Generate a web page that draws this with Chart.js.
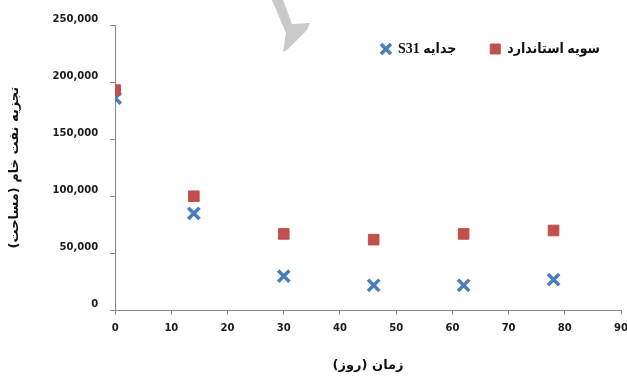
<!DOCTYPE html>
<html>
<head>
<meta charset="utf-8">
<script src="https://cdn.jsdelivr.net/npm/chart.js@4.4.1/dist/chart.umd.min.js"></script>
<style>
  html, body { margin: 0; padding: 0; background: #fff; }
  .wrap { width: 627px; height: 377px; position: relative; }
  canvas { direction: rtl; }
</style>
</head>
<body>
<div class="wrap"><canvas id="crudeChart"></canvas></div>
<script>
// days of incubation
const days = [0, 14, 30, 46, 62, 78];
// peak area, standard strain
const standardArea = [193000, 100000, 67000, 62000, 67000, 70000];
// peak area, isolate S31
const s31Area = [186000, 85000, 30000, 22000, 22000, 27000];

const xTicks = [0, 10, 20, 30, 40, 50, 60, 70, 80, 90];
const yTicks = [0, 50000, 100000, 150000, 200000, 250000];

const toPoints = vals => vals.map((v, i) => ({ x: days[i], y: v }));

// legend sits inside the plot area, top right (as in the original Excel chart)
const legendInside = {
    id: 'legendInside',
    afterLayout(chart) {
        const lg = chart.legend;
        const a = chart.chartArea;
        if (!lg) return;
        lg.top = a.top - 17;
        lg.height = 80;
        lg.bottom = lg.top + lg.height;
        lg.left = a.left;
        lg.right = a.right + 13;
        lg.width = lg.right - lg.left;
    }
};

// faint grey mark at the top of the scanned page
const pageMark = {
    id: 'pageMark',
    beforeDraw(chart) {
        const ctx = chart.ctx;
        ctx.save();
        ctx.fillStyle = '#c9c9c9';
        ctx.beginPath();
        ctx.moveTo(272, 0);
        ctx.lineTo(283, 0);
        ctx.lineTo(292, 24);
        ctx.lineTo(310, 23);
        ctx.lineTo(307, 30);
        ctx.lineTo(287, 50);
        ctx.lineTo(283, 52);
        ctx.lineTo(286, 33);
        ctx.closePath();
        ctx.fill();
        ctx.restore();
    }
};

const tickFont = { family: 'DejaVu Sans', size: 10, weight: 'bold' };
const titleFont = { family: 'DejaVu Sans', size: 13, weight: 'bold' };

new Chart(document.getElementById('crudeChart').getContext('2d'), {
    type: 'scatter',
    data: {
        datasets: [{
            label: 'سویه استاندارد',
            data: toPoints(standardArea),
            pointStyle: 'rect',
            pointRadius: 7.5,
            pointHoverRadius: 7.5,
            backgroundColor: '#C0504D',
            borderColor: '#C0504D',
            borderWidth: 1
        }, {
            label: 'جدایه S31',
            data: toPoints(s31Area),
            pointStyle: 'crossRot',
            pointRadius: 8,
            pointHoverRadius: 8,
            backgroundColor: '#4A7EBB',
            borderColor: '#4A7EBB',
            borderWidth: 3.5
        }]
    },
    options: {
        responsive: true,
        maintainAspectRatio: false,
        animation: false,
        layout: { autoPadding: false, padding: { left: 7, right: 0, top: 24, bottom: 0 } },
        plugins: {
            tooltip: { enabled: false },
            legend: {
                position: 'top',
                align: 'end',
                maxHeight: 1,
                reverse: true,
                textDirection: 'rtl',
                labels: {
                    usePointStyle: true,
                    boxWidth: 10,
                    boxHeight: 10,
                    padding: 34,
                    color: '#111',
                    font: { family: "'Liberation Serif', 'DejaVu Sans Condensed', 'DejaVu Sans'", size: 14, weight: 'bold' }
                }
            }
        },
        scales: {
            x: {
                type: 'linear',
                min: 0,
                max: 90,
                afterBuildTicks: s => { s.ticks = xTicks.map(v => ({ value: v })); },
                afterFit: s => { s.paddingRight = 6; },
                border: { color: '#868686', width: 1 },
                grid: { drawOnChartArea: false, drawTicks: true, tickLength: 4, color: '#868686' },
                ticks: { font: tickFont, color: '#1a1a1a', padding: 8, maxRotation: 0 },
                title: {
                    display: true,
                    text: 'زمان (روز)',
                    font: titleFont,
                    color: '#111',
                    padding: { top: 15, bottom: 4 }
                }
            },
            y: {
                type: 'linear',
                min: 0,
                max: 250000,
                afterBuildTicks: s => { s.ticks = yTicks.map(v => ({ value: v })); },
                border: { color: '#868686', width: 1 },
                grid: { drawOnChartArea: false, drawTicks: true, tickLength: 5, color: '#868686' },
                ticks: {
                    font: tickFont,
                    color: '#1a1a1a',
                    padding: 12,
                    labelOffset: -6,
                    callback: v => v.toLocaleString('en-US')
                },
                title: {
                    display: true,
                    text: 'تجزیه نفت خام (مساحت)',
                    font: titleFont,
                    color: '#111',
                    padding: { top: 0, bottom: 18 }
                }
            }
        }
    },
    plugins: [legendInside, pageMark]
});
</script>
</body>
</html>
